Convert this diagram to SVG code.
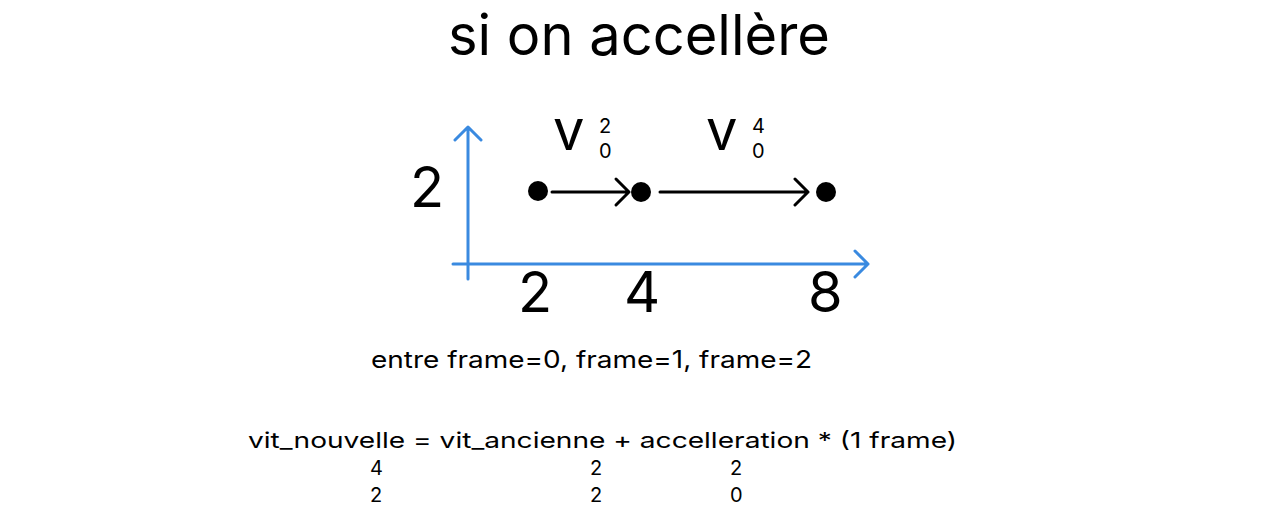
<svg xmlns="http://www.w3.org/2000/svg" width="1284" height="532" viewBox="0 0 1284 532">
<style>
text{font-family:Inter,"Noto Sans","Liberation Sans",sans-serif;fill:#000}
.big{font-size:56px}
.sub{font-size:20px}
.axis{stroke:#3a8ae0;stroke-width:3;fill:none;stroke-linecap:round;stroke-linejoin:round}
.arr{stroke:#000;stroke-width:3;fill:none;stroke-linecap:round;stroke-linejoin:round}
</style>
<rect width="1284" height="532" fill="#fff"/>
<g id="title"><text class="big" x="448" y="55">si on accellère</text></g>
<g id="axes">
<path class="axis" d="M468 127 V279 M455 140 L468 127 L481 140"/>
<path class="axis" d="M453 264 H868 M855 251 L868 264 L855 277"/>
</g>
<g id="labels">
<text class="big" x="410" y="207">2</text>
<text class="big" x="518" y="312">2</text>
<text class="big" x="624" y="312">4</text>
<text class="big" x="808" y="312">8</text>
</g>
<g id="p0"><circle cx="538" cy="191" r="10"/></g>
<g id="p1"><circle cx="641" cy="192" r="10"/></g>
<g id="p2"><circle cx="826" cy="192" r="10"/></g>
<g id="connectors">
<path class="arr" d="M552 192 H629 M616 179 L629 192 L616 205"/>
<path class="arr" d="M660 192 H808 M795 179 L808 192 L795 205"/>
</g>
<g id="v1"><text class="big" x="553" y="150">v</text><text class="sub" x="599" y="133">2</text><text class="sub" x="599" y="158">0</text></g>
<g id="v2"><text class="big" x="706" y="150">v</text><text class="sub" x="752" y="133">4</text><text class="sub" x="752" y="158">0</text></g>
<g id="caption"><text font-size="24" x="371" y="368" textLength="441" lengthAdjust="spacingAndGlyphs">entre frame=0, frame=1, frame=2</text></g>
<g id="formula">
<text font-size="22" x="248" y="448" textLength="709" lengthAdjust="spacingAndGlyphs">vit_nouvelle = vit_ancienne + accelleration * (1 frame)</text>
<text class="sub" x="370" y="475">4</text><text class="sub" x="370" y="502">2</text>
<text class="sub" x="590" y="475">2</text><text class="sub" x="590" y="502">2</text>
<text class="sub" x="730" y="475">2</text><text class="sub" x="730" y="502">0</text>
</g>
</svg>
